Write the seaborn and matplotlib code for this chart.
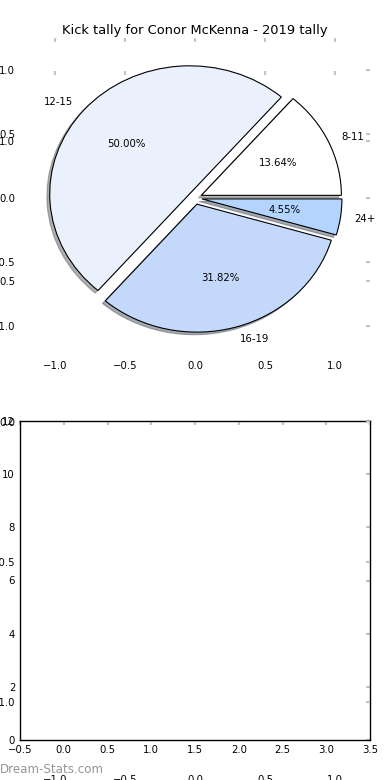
import matplotlib
matplotlib.use("Agg")
import matplotlib.pyplot as plt
import seaborn as sns
import numpy as np

# ---- data ----
labels = ["8-11", "12-15", "16-19", "24+"]
counts = [3, 11, 7, 1]
colors = ["#ffffff", "#eaf1fd", "#c4d8fc", "#b3d4ff"]
explode = [0.05, 0.05, 0.05, 0.05]
title = "Kick tally for Conor McKenna - 2019 tally"
pie_ticks = [-1.0, -0.5, 0.0, 0.5, 1.0]
bottom_xticks = [-0.5, 0.0, 0.5, 1.0, 1.5, 2.0, 2.5, 3.0, 3.5]
bottom_yticks = [0, 2, 4, 6, 8, 10, 12]
watermark = "Dream-Stats.com"

sns.set_style("white")
plt.rcParams["font.family"] = ["DejaVu Sans"]
plt.rcParams["text.color"] = "black"
plt.rcParams["xtick.labelcolor"] = "black"
plt.rcParams["ytick.labelcolor"] = "black"

W, H = 390, 780
fig = plt.figure(figsize=(W / 100, H / 100), dpi=100)

def px_axes(left, top, right, bottom):
    return fig.add_axes([left / W, 1 - bottom / H, (right - left) / W, (bottom - top) / H])

TICKC = "#c4c4c4"
FS = 7.3

def style_ticks(ax):
    ax.tick_params(axis="both", direction="in", length=2.6, width=1.6, color=TICKC,
                   top=True, right=True, labelsize=FS, labelcolor="black")
    ax.tick_params(axis="x", pad=2.5)
    ax.tick_params(axis="y", pad=3.5)

# bottom (empty) axes
axC = px_axes(20, 421, 370, 740)
axC.set_xlim(-0.5, 3.5)
axC.set_ylim(0, 12)
axC.set_xticks(bottom_xticks)
axC.set_yticks(bottom_yticks)
axC.set_xticklabels([f"{v:.1f}".replace("-", "\u2212") for v in bottom_xticks])
for s in axC.spines.values():
    s.set_visible(True)
    s.set_color("black")
    s.set_linewidth(1.0)
style_ticks(axC)
axC.tick_params(axis="x", pad=3.5)

# large frameless axes spanning the figure
axD = px_axes(20, 71, 370, 772)
axD.patch.set_visible(False)
axD.set_xlim(-1.25, 1.25)
axD.set_ylim(-1.25, 1.25)
axD.set_xticks(pie_ticks)
axD.set_yticks(pie_ticks)
for s in axD.spines.values():
    s.set_visible(False)
style_ticks(axD)

# pie axes
axA = px_axes(20, 38, 370, 358)
axA.pie(counts, labels=labels, colors=colors, explode=explode, autopct="%.2f%%",
        shadow={"ox": -0.0144, "oy": -0.0144, "shade": 0.6}, startangle=0, counterclock=True,
        wedgeprops={"edgecolor": "black", "linewidth": 0.8},
        textprops={"fontsize": FS, "color": "black"})
axA.set_aspect("auto")
axA.set_frame_on(False)
axA.set_xlim(-1.25, 1.25)
axA.set_ylim(-1.25, 1.25)
axA.set_xticks(pie_ticks)
axA.set_yticks(pie_ticks)
style_ticks(axA)
axA.set_title(title, fontsize=9.4, pad=3, color="black")

fig.text(0.0, 1 - 769.5 / H, watermark, color="#959595", fontsize=8.6,
         ha="left", va="center")

fig.savefig("out.png", dpi=100)
